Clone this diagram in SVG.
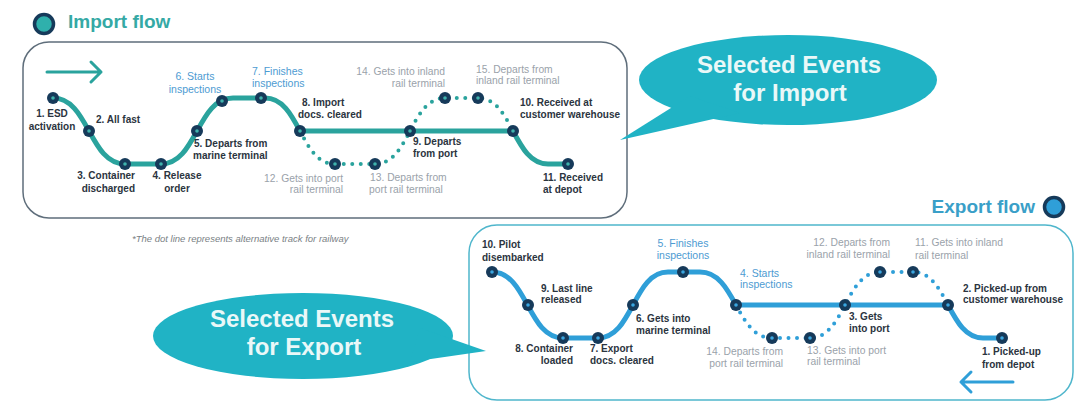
<svg xmlns="http://www.w3.org/2000/svg" width="1083" height="402" viewBox="0 0 1083 402">
<style>
.box-i{fill:none;stroke:#5f6e7b;stroke-width:1.5}
.box-e{fill:none;stroke:#4fb6cc;stroke-width:1.5}
.li{fill:none;stroke:#2aa39d;stroke-width:5;stroke-linejoin:round}
.le{fill:none;stroke:#2f9fd8;stroke-width:5;stroke-linejoin:round}
.di{fill:none;stroke:#2aa39d;stroke-width:4;stroke-linecap:round;stroke-dasharray:0 8.5}
.de{fill:none;stroke:#2f9fd8;stroke-width:4;stroke-linecap:round;stroke-dasharray:0 8.5}
.ai{fill:none;stroke:#2aa39d;stroke-width:3;stroke-linecap:round;stroke-linejoin:round}
.ae{fill:none;stroke:#2f9fd8;stroke-width:3;stroke-linecap:round;stroke-linejoin:round}
.nd{fill:#163a5a}
.ci{fill:#3fb3ad}
.ce{fill:#3aa6e0}
.lb{font-family:"Liberation Sans",Arial,sans-serif;font-size:10px;font-weight:bold;fill:#2b3440}
.bl{font-weight:normal;fill:#4d9bd2;font-size:10.5px}
.gr{font-weight:normal;fill:#9aa2aa;font-size:10.3px}
.e{text-anchor:end}
.m{text-anchor:middle}
.ttl{font-family:"Liberation Sans",Arial,sans-serif;font-size:19px;font-weight:bold}
.bub{fill:#20b3c5}
.bt{font-family:"Liberation Sans",Arial,sans-serif;font-size:24px;font-weight:bold;fill:#eaf8f8;text-anchor:middle}
.note{font-family:"Liberation Sans",Arial,sans-serif;font-size:9.5px;font-style:italic;fill:#7a7f85}
</style>
<defs>
<g id="ni"><circle r="6" class="nd"/><circle r="1.8" class="ci"/></g>
<g id="ne"><circle r="6" class="nd"/><circle r="1.8" class="ce"/></g>
</defs>
<rect width="1083" height="402" fill="#ffffff"/>

<!-- Titles -->
<g id="import-title">
<circle cx="44" cy="24" r="9.5" fill="#2fb0ac" stroke="#163a5a" stroke-width="3.5"/>
<text class="ttl" x="68" y="28" fill="#35a9a5">Import flow</text>
</g>
<g id="export-title">
<circle cx="1054" cy="207" r="9.5" fill="#2f9fd8" stroke="#163a5a" stroke-width="3.5"/>
<text class="ttl" x="1035" y="213" fill="#3a9fc8" text-anchor="end">Export flow</text>
</g>

<!-- Boxes -->
<rect id="import-box" class="box-i" x="23" y="42" width="604" height="176" rx="26"/>
<rect id="export-box" class="box-e" x="469" y="225" width="604" height="175" rx="28"/>

<text class="note" x="132" y="242">*The dot line represents alternative track for railway</text>

<!-- Bubbles -->
<g id="bubble-import">
<ellipse class="bub" cx="788" cy="80" rx="149" ry="45"/>
<polygon class="bub" points="690,96 620,140 740,113"/>
<text class="bt" x="789" y="73">Selected Events</text>
<text class="bt" x="790" y="101">for Import</text>
</g>
<g id="bubble-export">
<ellipse class="bub" cx="303" cy="336" rx="150" ry="43"/>
<polygon class="bub" points="420,328 486,351 410,362"/>
<text class="bt" x="302" y="327">Selected Events</text>
<text class="bt" x="304" y="355">for Export</text>
</g>

<!-- Connectors -->
<g id="connectors">
<path class="ai" d="M47,72 L101,72 M91,62 L101,72 L91,82"/>
<path class="li" d="M53,98 C89,98 89,164 125,164 L161,164 C197,164 197,98 233,98 L265,98 C282.5,98 291.25,114.5 300,131 L513,131 C521.75,147.5 530.5,164 548,164 L568,164"/>
<path class="di" d="M300,131 C308.75,147.5 317.5,164 335,164 L375,164 C410,164 410,98 445,98 L478,98 C495.5,98 504.25,114.5 513,131"/>
<path class="ae" d="M1013,382 L961,382 M971,372 L961,382 L971,392"/>
<path class="le" d="M492,272 C527.5,272 527.5,338 563,338 L598,338 C633,338 633,272 668,272 L700,272 C718,272 727,288.5 736,305 L948,305 C956.75,321.5 965.5,338 983,338 L1002,338"/>
<path class="de" d="M736,305 C745,321.5 754,338 772,338 L810,338 C845,338 845,272 880,272 L913,272 C930.5,272 939.25,288.5 948,305"/>
</g>

<!-- Import nodes -->
<g id="imp-1"><use href="#ni" x="53" y="98"/><text class="lb m" x="52" y="117">1. ESD</text><text class="lb m" x="52" y="130">activation</text></g>
<g id="imp-2"><use href="#ni" x="89" y="131"/><text class="lb" x="96" y="123">2. All fast</text></g>
<g id="imp-3"><use href="#ni" x="125" y="164"/><text class="lb e" x="135" y="179">3. Container</text><text class="lb e" x="135" y="192">discharged</text></g>
<g id="imp-4"><use href="#ni" x="161" y="164"/><text class="lb m" x="177" y="179">4. Release</text><text class="lb m" x="177" y="192">order</text></g>
<g id="imp-5"><use href="#ni" x="197" y="131"/><text class="lb" x="194" y="147">5. Departs from</text><text class="lb" x="193" y="159">marine terminal</text></g>
<g id="imp-6"><use href="#ni" x="222" y="101"/><text class="lb bl m" x="195" y="80">6. Starts</text><text class="lb bl m" x="195" y="93">inspections</text></g>
<g id="imp-7"><use href="#ni" x="261" y="98"/><text class="lb bl" x="252" y="75">7. Finishes</text><text class="lb bl" x="252" y="87">inspections</text></g>
<g id="imp-8"><use href="#ni" x="300" y="131"/><text class="lb" x="302" y="106">8. Import</text><text class="lb" x="298" y="118">docs. cleared</text></g>
<g id="imp-9"><use href="#ni" x="410" y="131"/><text class="lb" x="413" y="145">9. Departs</text><text class="lb" x="413" y="157">from port</text></g>
<g id="imp-10"><use href="#ni" x="513" y="131"/><text class="lb" x="520" y="106">10. Received at</text><text class="lb" x="520" y="118">customer warehouse</text></g>
<g id="imp-11"><use href="#ni" x="568" y="164"/><text class="lb" x="543" y="181">11. Received</text><text class="lb" x="543" y="193">at depot</text></g>
<g id="imp-12"><use href="#ni" x="335" y="164"/><text class="lb gr e" x="343" y="182">12. Gets into port</text><text class="lb gr e" x="343" y="193">rail terminal</text></g>
<g id="imp-13"><use href="#ni" x="375" y="164"/><text class="lb gr" x="370" y="181">13. Departs from</text><text class="lb gr" x="369" y="193">port rail terminal</text></g>
<g id="imp-14"><use href="#ni" x="445" y="98"/><text class="lb gr e" x="445" y="75">14. Gets into inland</text><text class="lb gr e" x="445" y="87">rail terminal</text></g>
<g id="imp-15"><use href="#ni" x="478" y="98"/><text class="lb gr" x="476" y="73">15. Departs from</text><text class="lb gr" x="476" y="84">inland rail terminal</text></g>

<!-- Export nodes -->
<g id="exp-1"><use href="#ne" x="1002" y="338"/><text class="lb" x="982" y="355">1. Picked-up</text><text class="lb" x="982" y="368">from depot</text></g>
<g id="exp-2"><use href="#ne" x="948" y="305"/><text class="lb" x="963" y="292">2. Picked-up from</text><text class="lb" x="963" y="303">customer warehouse</text></g>
<g id="exp-3"><use href="#ne" x="845" y="305"/><text class="lb" x="849" y="320">3. Gets</text><text class="lb" x="849" y="332">into port</text></g>
<g id="exp-4"><use href="#ne" x="736" y="305"/><text class="lb bl" x="740" y="277">4. Starts</text><text class="lb bl" x="740" y="288">inspections</text></g>
<g id="exp-5"><use href="#ne" x="683" y="272"/><text class="lb bl m" x="683" y="247">5. Finishes</text><text class="lb bl m" x="683" y="259">inspections</text></g>
<g id="exp-6"><use href="#ne" x="633" y="305"/><text class="lb" x="636" y="322">6. Gets into</text><text class="lb" x="636" y="334">marine terminal</text></g>
<g id="exp-7"><use href="#ne" x="598" y="338"/><text class="lb" x="590" y="352">7. Export</text><text class="lb" x="590" y="364">docs. cleared</text></g>
<g id="exp-8"><use href="#ne" x="563" y="338"/><text class="lb e" x="573" y="352">8. Container</text><text class="lb e" x="573" y="364">loaded</text></g>
<g id="exp-9"><use href="#ne" x="528" y="305"/><text class="lb" x="541" y="292">9. Last line</text><text class="lb" x="541" y="303">released</text></g>
<g id="exp-10"><use href="#ne" x="492" y="272"/><text class="lb" x="482" y="248">10. Pilot</text><text class="lb" x="482" y="261">disembarked</text></g>
<g id="exp-11"><use href="#ne" x="913" y="272"/><text class="lb gr" x="915" y="246">11. Gets into inland</text><text class="lb gr" x="915" y="259">rail terminal</text></g>
<g id="exp-12"><use href="#ne" x="880" y="272"/><text class="lb gr e" x="890" y="246">12. Departs from</text><text class="lb gr e" x="890" y="258">inland rail terminal</text></g>
<g id="exp-13"><use href="#ne" x="810" y="338"/><text class="lb gr" x="807" y="354">13. Gets into port</text><text class="lb gr" x="807" y="365">rail terminal</text></g>
<g id="exp-14"><use href="#ne" x="772" y="338"/><text class="lb gr e" x="783" y="355">14. Departs from</text><text class="lb gr e" x="783" y="367">port rail terminal</text></g>
</svg>
